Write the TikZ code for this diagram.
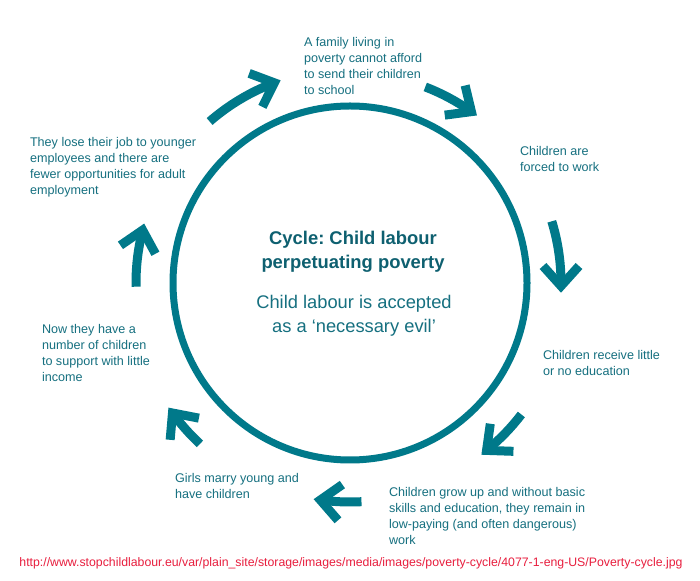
\documentclass[tikz,border=0pt]{standalone}
\usepackage{fontspec}
\setmainfont{Liberation Sans}
\frenchspacing
\definecolor{teal1}{RGB}{0,121,138}
\definecolor{tealtxt}{RGB}{22,112,128}
\definecolor{tealdark}{RGB}{14,96,112}
\definecolor{urlred}{RGB}{232,30,62}
\tikzset{
  ring/.style={draw=teal1, line width=7pt},
  shaftline/.style={draw=teal1, line width=9pt},
  headline/.style={draw=teal1, line width=9pt, line join=miter, miter limit=10},
  label/.style={inner sep=0pt, outer sep=0pt, text=tealtxt, align=left, anchor=north west,
    font=\fontsize{12.6}{16}\selectfont},
}
\newcommand{\cyclearrow}[3]{%
  \begin{scope}[shift={(C)}]
    \draw[shaftline] (#1:#3) arc[start angle=#1, end angle=#2, radius=#3];
    \begin{scope}[rotate=#2]
      \draw[headline] (#3-18,17) -- (#3,-3) -- (#3+18,17);
    \end{scope}
  \end{scope}}
\begin{document}
\begin{tikzpicture}[x=1pt,y=1pt]
\fill[white] (0,0) rectangle (700,580);
\useasboundingbox (0,0) rectangle (700,580);
\coordinate (C) at (350,297);
\draw[ring] (C) circle[radius=177];
\cyclearrow{131}{111.5}{214}
\cyclearrow{69}{55.5}{210}
\cyclearrow{17}{0}{211}
\cyclearrow{-37.5}{-50}{216}
\cyclearrow{-87}{-97}{219}
\cyclearrow{-133}{-143}{220}
\cyclearrow{181}{166.5}{214}
\node[label] (s1) at (304,543) {A family living in\\poverty cannot afford\\to send their children\\to school};
\node[label] (s2) at (520,434) {Children are\\forced to work};
\node[label] (s3) at (543,230) {Children receive little\\or no education};
\node[label] (s4) at (389,93) {Children grow up and without basic\\skills and education, they remain in\\low-paying (and often dangerous)\\work};
\node[label] (s5) at (175,107) {Girls marry young and\\have children};
\node[label] (s6) at (42,256) {Now they have a\\number of children\\to support with little\\income};
\node[label] (s7) at (30,443) {They lose their job to younger\\employees and there are\\fewer opportunities for adult\\employment};
\node[inner sep=0pt, align=center, text=tealdark, font=\bfseries\fontsize{18.4}{24}\selectfont] (title) at (353,328) {Cycle: Child labour\\perpetuating poverty};
\node[inner sep=0pt, align=center, text=tealtxt, font=\fontsize{18.3}{24}\selectfont] (sub) at (354,264) {Child labour is accepted\\as a ‘necessary evil’};
\node[inner sep=0pt, text=urlred, font=\fontsize{12.3}{14}\selectfont] (url) at (351,17) {http://www.stopchildlabour.eu/var/plain\_site/storage/images/media/images/poverty-cycle/4077-1-eng-US/Poverty-cycle.jpg};
\end{tikzpicture}
\end{document}
